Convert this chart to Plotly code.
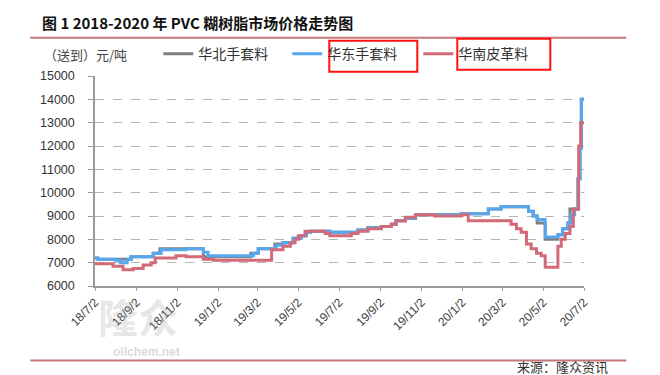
import plotly.graph_objects as go

# ---------------- data ----------------
north_dates = ["2018-07-02", "2018-07-06", "2018-08-25", "2018-09-27", "2018-10-07",
               "2018-12-11", "2019-02-20", "2019-03-03", "2019-03-28", "2019-04-09",
               "2019-04-24", "2019-05-06", "2019-05-14", "2019-05-20", "2019-06-18",
               "2019-07-30", "2019-08-14", "2019-09-03", "2019-09-18", "2019-09-25",
               "2019-10-09", "2019-10-24", "2019-12-31", "2020-02-10", "2020-02-29",
               "2020-04-10", "2020-04-17", "2020-04-23", "2020-05-05", "2020-05-24",
               "2020-05-31", "2020-06-08", "2020-06-11", "2020-06-23", "2020-06-26",
               "2020-06-28", "2020-07-02"]
north_vals = [7200, 7150, 7250, 7400, 7600,
              7250, 7400, 7600, 7800, 7850,
              8050, 8150, 8300, 8350, 8300,
              8400, 8500, 8550, 8650, 8800,
              8900, 9050, 9100, 9300, 9400,
              9200, 9000, 8700, 8000, 8200,
              8450, 8700, 9300, 10600, 11900,
              14000, 14000]

east_dates = ["2018-07-02", "2018-07-06", "2018-08-01", "2018-08-09", "2018-08-19",
              "2018-08-25", "2018-09-27", "2018-10-09", "2018-11-15", "2018-12-11",
              "2018-12-18", "2019-02-24", "2019-03-03", "2019-03-30", "2019-04-09",
              "2019-04-24", "2019-05-06", "2019-05-14", "2019-05-20", "2019-06-18",
              "2019-07-30", "2019-08-14", "2019-09-03", "2019-09-18", "2019-09-25",
              "2019-10-09", "2019-10-24", "2019-12-31", "2020-02-10", "2020-02-29",
              "2020-04-10", "2020-04-17", "2020-04-23", "2020-05-05", "2020-05-24",
              "2020-05-31", "2020-06-08", "2020-06-12", "2020-06-18", "2020-06-23",
              "2020-06-26", "2020-06-28", "2020-07-02"]
east_vals = [7200, 7150, 7100, 7000, 7150,
             7250, 7400, 7550, 7600, 7450,
             7300, 7400, 7600, 7750, 7850,
             8050, 8150, 8300, 8350, 8300,
             8400, 8500, 8550, 8650, 8800,
             8900, 9050, 9100, 9300, 9400,
             9200, 9000, 8850, 8100, 8200,
             8450, 8700, 9050, 9300, 10600,
             11900, 14000, 14000]

south_dates = ["2018-07-02", "2018-07-29", "2018-08-13", "2018-08-28", "2018-09-12",
               "2018-09-24", "2018-09-30", "2018-10-31", "2018-11-15", "2018-12-11",
               "2018-12-26", "2019-03-23", "2019-04-09", "2019-04-20", "2019-04-27",
               "2019-05-02", "2019-05-12", "2019-06-11", "2019-06-18", "2019-07-20",
               "2019-07-30", "2019-08-14", "2019-09-03", "2019-09-18", "2019-09-25",
               "2019-10-09", "2019-10-24", "2019-11-22", "2019-12-31", "2020-01-11",
               "2020-03-15", "2020-03-23", "2020-03-30", "2020-04-07", "2020-04-14",
               "2020-04-22", "2020-04-29", "2020-05-05", "2020-05-24", "2020-05-29",
               "2020-06-04", "2020-06-11", "2020-06-16", "2020-06-24", "2020-06-27",
               "2020-07-02"]
south_vals = [6950, 6850, 6700, 6750, 6900,
              7000, 7200, 7300, 7250, 7150,
              7100, 7550, 7700, 7850, 8000,
              8150, 8350, 8250, 8150, 8250,
              8350, 8450, 8550, 8650, 8800,
              8950, 9050, 9000, 9050, 8800,
              8650, 8450, 8300, 7800, 7600,
              7400, 7300, 6800, 7700, 8000,
              8250, 8550, 9300, 12000, 13000,
              13000]

series_names = ["华北手套料", "华东手套料", "华南皮革料"]
series_colors = ["rgb(128,128,128)", "rgb(85,168,240)", "rgb(210,106,122)"]

tick_dates = ["2018-07-02", "2018-09-02", "2018-11-02", "2019-01-02", "2019-03-02",
              "2019-05-02", "2019-07-02", "2019-09-02", "2019-11-02", "2020-01-02",
              "2020-03-02", "2020-05-02", "2020-07-02"]
tick_labels = ["18/7/2", "18/9/2", "18/11/2", "19/1/2", "19/3/2", "19/5/2", "19/7/2",
               "19/9/2", "19/11/2", "20/1/2", "20/3/2", "20/5/2", "20/7/2"]
y_ticks = [6000, 7000, 8000, 9000, 10000, 11000, 12000, 13000, 14000, 15000]
y_tick_labels = [str(v) for v in y_ticks]

title_text = "图 1 2018-2020 年 PVC 糊树脂市场价格走势图"
unit_text = "（送到）元/吨"
source_text = "来源：隆众资讯"

# ---------------- layout geometry (pixels) ----------------
W, H = 660, 375
L, R, T, B = 86.7, 575.7, 68.3, 278.3


def px(x):
    return (x - L) / (R - L)


def py(y):
    return (B - y) / (B - T)


CJK = "Noto Sans CJK SC"
fig = go.Figure()

all_dates = [north_dates, east_dates, south_dates]
all_vals = [north_vals, east_vals, south_vals]
legend_ids = ["legend", "legend2", "legend3"]
for name, d, v, c, lg in zip(series_names, all_dates, all_vals, series_colors, legend_ids):
    fig.add_trace(go.Scatter(x=d, y=v, mode="lines", name=name, legend=lg,
                             showlegend=True,
                             line=dict(color=c, width=3, shape="hv")))

legend_common = dict(orientation="h", yanchor="middle", xanchor="left",
                     bgcolor="rgba(0,0,0,0)", borderwidth=0,
                     font=dict(family=CJK, size=14, color="#333333"))
fig.update_layout(
    showlegend=True,
    legend=dict(x=px(150), y=py(46.5), **legend_common),
    legend2=dict(x=px(279), y=py(46.5), **legend_common),
    legend3=dict(x=px(410), y=py(46.5), **legend_common),
)

fig.update_xaxes(
    type="date", range=["2018-07-02", "2020-07-02"],
    tickvals=tick_dates, ticktext=tick_labels, tickangle=-45,
    tickfont=dict(family="Liberation Sans, Arial", size=12, color="#404040"),
    showgrid=False, showline=True, linecolor="#9a9a9a", linewidth=1.5,
    ticks="outside", ticklen=3, tickcolor="#9a9a9a", zeroline=False,
)
fig.update_yaxes(
    range=[6000, 15000], tickvals=y_ticks, ticktext=y_tick_labels,
    tickfont=dict(family="Liberation Sans, Arial", size=12.5, color="#333333"),
    showgrid=True, gridcolor="#b4b4b4", griddash="dash", gridwidth=1,
    showline=True, linecolor="#9a9a9a", linewidth=1.5,
    ticks="outside", ticklen=5, tickcolor="#9a9a9a", ticklabelstandoff=11,
    zeroline=False,
)

shapes = []
# top & bottom rules
for yy in (30, 352.7):
    shapes.append(dict(type="line", xref="paper", yref="paper",
                       x0=px(22), x1=px(618), y0=py(yy), y1=py(yy),
                       line=dict(color="rgb(196,120,120)", width=2)))
# red highlight boxes
for (x0, x1, y0, y1) in [(321, 409, 33, 64), (449, 542, 31, 62)]:
    shapes.append(dict(type="rect", xref="paper", yref="paper",
                       x0=px(x0), x1=px(x1), y0=py(y1), y1=py(y0),
                       line=dict(color="#ff1010", width=2), fillcolor="rgba(0,0,0,0)"))

annotations = [
    dict(text=title_text, xref="paper", yref="paper", x=px(32), y=py(15),
         xanchor="left", yanchor="middle", showarrow=False,
         font=dict(family=CJK, size=15, color="#111111", weight="bold")),
    dict(text=unit_text, xref="paper", yref="paper", x=px(34), y=py(46.5),
         xanchor="left", yanchor="middle", showarrow=False,
         font=dict(family=CJK, size=13, color="#444444")),
    dict(text=source_text, xref="paper", yref="paper", x=px(507), y=py(359),
         xanchor="left", yanchor="middle", showarrow=False,
         font=dict(family=CJK, size=13, color="#333333")),
    # faint watermark
    dict(text="隆众", xref="paper", yref="paper", x=px(130), y=py(308),
         xanchor="center", yanchor="middle", showarrow=False,
         font=dict(family=CJK, size=40, color="rgba(170,170,170,0.3)", weight="bold")),
    dict(text="oilchem.net", xref="paper", yref="paper", x=px(138), y=py(344),
         xanchor="center", yanchor="middle", showarrow=False,
         font=dict(family="Liberation Sans, Arial", size=12, color="rgba(170,170,170,0.45)",
                   weight="bold")),
]

fig.update_layout(
    width=W, height=H, autosize=False,
    margin=dict(l=L, r=W - R, t=T, b=H - B, pad=0),
    paper_bgcolor="white", plot_bgcolor="white",
    shapes=shapes, annotations=annotations,
    font=dict(family=CJK, color="#333333"),
)

fig.write_html("out.html")
